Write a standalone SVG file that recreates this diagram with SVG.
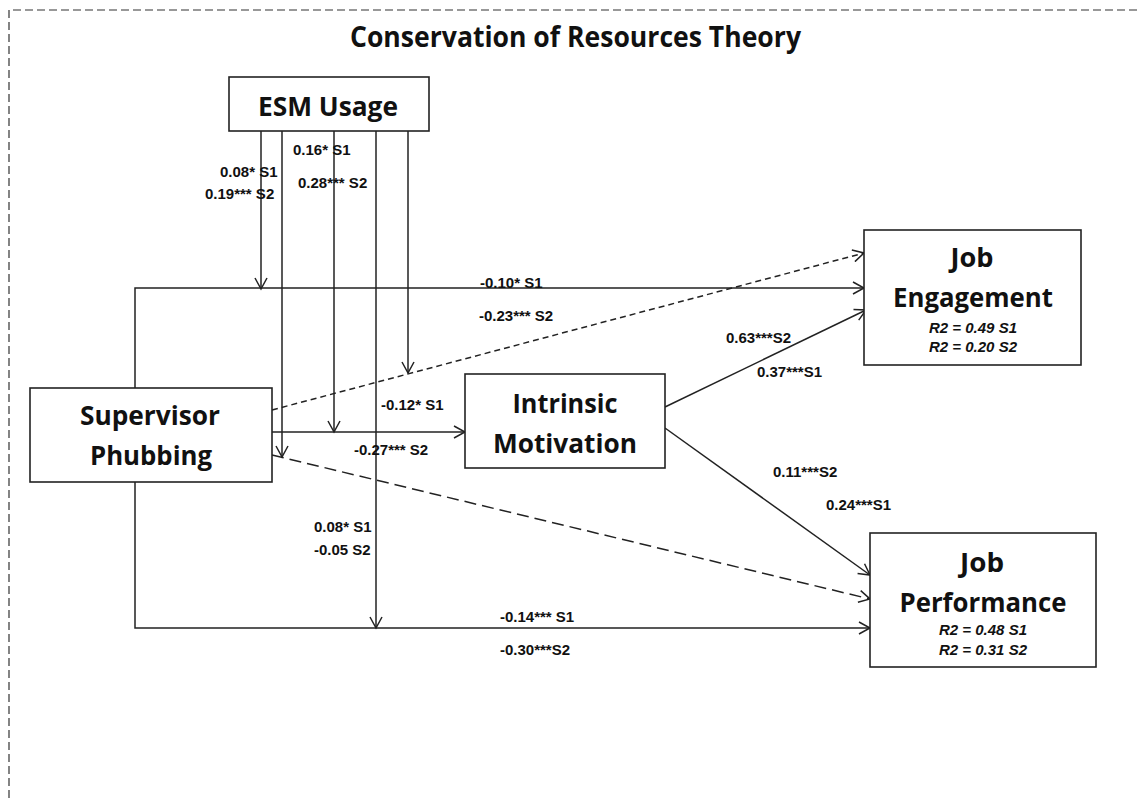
<svg xmlns="http://www.w3.org/2000/svg" width="1137" height="798" viewBox="0 0 1137 798">
<style>
.frame{fill:none;stroke:#333;stroke-width:1.2;stroke-dasharray:8 4}
.box{fill:#fff;stroke:#222;stroke-width:1.6}
.big{font-family:"Open Sans","Liberation Sans",sans-serif;font-weight:bold;font-size:27px;fill:#111;text-anchor:middle}
.title{font-family:"Open Sans","Liberation Sans",sans-serif;font-weight:bold;font-size:28px;fill:#111}
.r2{font-family:"Liberation Sans",Arial,sans-serif;font-weight:bold;font-style:italic;font-size:15px;fill:#111;text-anchor:middle}
.lbl{font-family:"Liberation Sans",Arial,sans-serif;font-weight:bold;font-size:15px;fill:#111}
.ln{fill:none;stroke:#222;stroke-width:1.5}
.d1{stroke-dasharray:6 4}
.d2{stroke-dasharray:12 6}
</style>
<defs>
<marker id="arr" markerUnits="userSpaceOnUse" markerWidth="14" markerHeight="14" viewBox="0 0 14 14" refX="12" refY="7" orient="auto">
<path d="M1,1 L12,7 L1,13" fill="none" stroke="#222" stroke-width="1.5"/>
</marker>
</defs>
<rect width="1137" height="798" fill="#fff"/>
<path class="frame" d="M9,798 V10 H1137"/>
<text class="title" x="350" y="47" textLength="451" lengthAdjust="spacingAndGlyphs">Conservation of Resources  Theory</text>

<g id="connectors">
<path class="ln" d="M135,388 V288 H864" marker-end="url(#arr)"/>
<path class="ln d1" d="M272,410 L864,253" marker-end="url(#arr)"/>
<path class="ln" d="M272,432 H465" marker-end="url(#arr)"/>
<path class="ln d2" d="M272,455 L870,599" marker-end="url(#arr)"/>
<path class="ln" d="M135,482 V628 H870" marker-end="url(#arr)"/>
<path class="ln" d="M665,407 L866,310" marker-end="url(#arr)"/>
<path class="ln" d="M665,428 L870,575" marker-end="url(#arr)"/>
<path class="ln" d="M261,131 V289" marker-end="url(#arr)"/>
<path class="ln" d="M282,131 V457" marker-end="url(#arr)"/>
<path class="ln" d="M334,131 V432" marker-end="url(#arr)"/>
<path class="ln" d="M376,131 V628" marker-end="url(#arr)"/>
<path class="ln" d="M408,131 V373" marker-end="url(#arr)"/>
</g>

<g id="labels">
<text class="lbl" x="293" y="155">0.16* S1</text>
<text class="lbl" x="220" y="177">0.08* S1</text>
<text class="lbl" x="205" y="199">0.19*** S2</text>
<text class="lbl" x="298" y="188">0.28*** S2</text>
<text class="lbl" x="480" y="288">-0.10* S1</text>
<text class="lbl" x="479" y="321">-0.23*** S2</text>
<text class="lbl" x="726" y="343">0.63***S2</text>
<text class="lbl" x="757" y="377">0.37***S1</text>
<text class="lbl" x="381" y="410">-0.12* S1</text>
<text class="lbl" x="354" y="455">-0.27*** S2</text>
<text class="lbl" x="773" y="477">0.11***S2</text>
<text class="lbl" x="826" y="510">0.24***S1</text>
<text class="lbl" x="314" y="532">0.08* S1</text>
<text class="lbl" x="314" y="555">-0.05 S2</text>
<text class="lbl" x="500" y="622">-0.14*** S1</text>
<text class="lbl" x="500" y="655">-0.30***S2</text>
</g>

<g id="esm">
<rect class="box" x="229" y="77" width="200" height="54"/>
<text class="big" x="328" y="116" textLength="140" lengthAdjust="spacingAndGlyphs">ESM Usage</text>
</g>

<g id="supervisor">
<rect class="box" x="30" y="388" width="242" height="94"/>
<text class="big" x="150" y="425" textLength="140" lengthAdjust="spacingAndGlyphs">Supervisor</text>
<text class="big" x="151" y="465" textLength="122" lengthAdjust="spacingAndGlyphs">Phubbing</text>
</g>

<g id="intrinsic">
<rect class="box" x="465" y="374" width="200" height="94"/>
<text class="big" x="565" y="413" textLength="105" lengthAdjust="spacingAndGlyphs">Intrinsic</text>
<text class="big" x="565" y="453" textLength="144" lengthAdjust="spacingAndGlyphs">Motivation</text>
</g>

<g id="engagement">
<rect class="box" x="864" y="230" width="217" height="135"/>
<text class="big" x="972" y="267" textLength="43" lengthAdjust="spacingAndGlyphs">Job</text>
<text class="big" x="973" y="307" textLength="160" lengthAdjust="spacingAndGlyphs">Engagement</text>
<text class="r2" x="973" y="333">R2 = 0.49 S1</text>
<text class="r2" x="973" y="352">R2 = 0.20 S2</text>
</g>

<g id="performance">
<rect class="box" x="870" y="533" width="226" height="134"/>
<text class="big" x="982" y="572" textLength="44" lengthAdjust="spacingAndGlyphs">Job</text>
<text class="big" x="983" y="612" textLength="167" lengthAdjust="spacingAndGlyphs">Performance</text>
<text class="r2" x="983" y="635">R2 = 0.48 S1</text>
<text class="r2" x="983" y="655">R2 = 0.31 S2</text>
</g>
</svg>
